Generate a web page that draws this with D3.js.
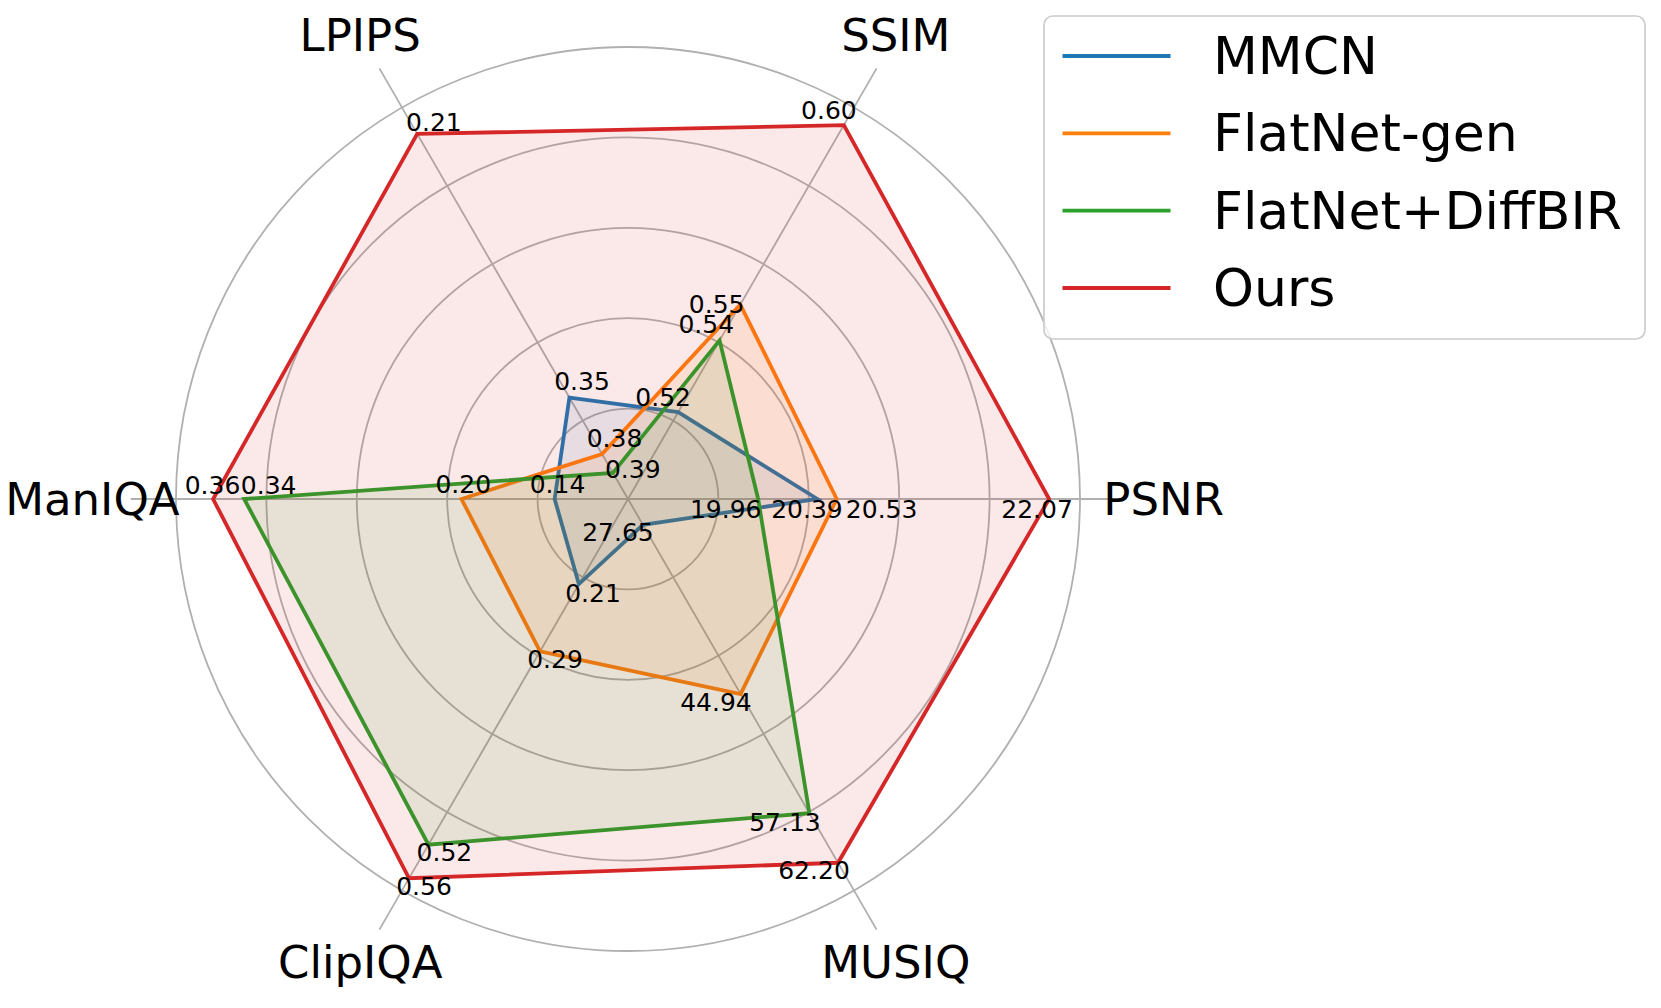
<!DOCTYPE html>
<html>
<head>
<meta charset="utf-8">
<script src="https://cdn.jsdelivr.net/npm/d3@7"></script>
<style>
  html, body { margin: 0; padding: 0; background: #ffffff; }
  svg { display: block; }
  text { font-family: "DejaVu Sans", sans-serif; fill: #000; }
</style>
</head>
<body>
<svg id="chart" width="1661" height="1008"></svg>
<script>
// ---------------- data ----------------
const metrics = ["PSNR", "SSIM", "LPIPS", "ManIQA", "ClipIQA", "MUSIQ"];
const seriesNames = ["MMCN", "FlatNet-gen", "FlatNet+DiffBIR", "Ours"];
const mmcnValues = [20.39, 0.52, 0.35, 0.14, 0.21, 27.65];
const flatnetGenValues = [20.53, 0.55, 0.38, 0.20, 0.29, 44.94];
const flatnetDiffbirValues = [19.96, 0.54, 0.39, 0.34, 0.52, 57.13];
const oursValues = [22.07, 0.60, 0.21, 0.36, 0.56, 62.20];
// per-metric value range mapped from centre (first) to outer grid ring (second); LPIPS is inverted
const metricDomains = [[19.016, 22.294], [0.4958, 0.6049], [0.4039, 0.1960], [0.09275, 0.3839], [0.1087, 0.5745], [25.0, 65.03]];
const gridLevels = [0.2, 0.4, 0.6, 0.8, 1.0];

// ---------------- layout / style ----------------
const colors = ["#1f77b4", "#ff7f0e", "#2ca02c", "#d62728"];
const cx = 628, cy = 499, R = 452;
// value-label nudges [dx, dy] per series (rows) and metric (columns)
const labelNudges = [
  [[-10.5, 10], [-15, -14.6], [12.6, -16.5], [2.9, -14.3], [14.2, 9.2], [-25, 7.1]],
  [[44.9, 10], [-23.6, -0.5], [12.5, -16], [1.8, -14.3], [15, 8.5], [-24.6, 8.6]],
  [[-32.5, 10], [-13.3, -16.3], [19.9, -3.1], [24.5, -14], [16, 7.4], [-24.4, 9.3]],
  [[-12, 10], [-14.9, -15.1], [16.7, -11], [-0.6, -14], [15, 8.7], [-24, 8.2]]
];

const series = [mmcnValues, flatnetGenValues, flatnetDiffbirValues, oursValues];

const svg = d3.select("#chart");
const g = svg.append("g").attr("transform", `translate(${cx},${cy})`);

const angleScale = d3.scaleLinear().domain([0, metrics.length]).range([0, 2 * Math.PI]);
const radiusScales = metricDomains.map(d => d3.scaleLinear().domain(d).range([0, R]));
const unitRadius = d3.scaleLinear().domain([0, 1]).range([0, R]);

function pt(i, r) {
  const a = angleScale(i);
  return [r * Math.cos(a), -r * Math.sin(a)];
}

// grid circles
g.selectAll("circle.grid").data(gridLevels).enter().append("circle")
  .attr("class", "grid")
  .attr("r", d => unitRadius(d))
  .attr("fill", "none").attr("stroke", "#b0b0b0").attr("stroke-width", 1.8);

// spokes
g.selectAll("line.spoke").data(metrics).enter().append("line")
  .attr("class", "spoke")
  .attr("x1", 0).attr("y1", 0)
  .attr("x2", (d, i) => pt(i, unitRadius(1.1))[0])
  .attr("y2", (d, i) => pt(i, unitRadius(1.1))[1])
  .attr("stroke", "#b0b0b0").attr("stroke-width", 1.8);

// metric labels
g.selectAll("text.metric").data(metrics).enter().append("text")
  .attr("class", "metric")
  .attr("x", (d, i) => pt(i, unitRadius(1.185))[0])
  .attr("y", (d, i) => pt(i, unitRadius(1.185))[1])
  .attr("text-anchor", "middle")
  .attr("dominant-baseline", "central")
  .attr("font-size", 45)
  .text(d => d);

// series polygons
const line = d3.lineRadial().curve(d3.curveLinearClosed)
  .angle(d => Math.PI / 2 - angleScale(d.i))
  .radius(d => radiusScales[d.i](d.v));

series.forEach((vals, s) => {
  const pts = vals.map((v, i) => ({ v, i }));
  g.append("path").datum(pts)
    .attr("d", line)
    .attr("fill", colors[s]).attr("fill-opacity", 0.1)
    .attr("stroke", "none");
  g.append("path").datum(pts)
    .attr("d", line)
    .attr("fill", "none")
    .attr("stroke", colors[s]).attr("stroke-width", 3.8)
    .attr("stroke-linejoin", "miter");
});

// value labels
series.forEach((vals, s) => {
  g.selectAll(null).data(vals).enter().append("text")
    .attr("x", (v, i) => pt(i, radiusScales[i](v))[0] + labelNudges[s][i][0])
    .attr("y", (v, i) => pt(i, radiusScales[i](v))[1] + labelNudges[s][i][1])
    .attr("text-anchor", "middle")
    .attr("dominant-baseline", "central")
    .attr("font-size", 25)
    .text(v => v.toFixed(2));
});

// legend
const lg = svg.append("g").attr("transform", "translate(1044,16)");
lg.append("rect")
  .attr("x", 0).attr("y", 0).attr("width", 601).attr("height", 323)
  .attr("rx", 9).attr("ry", 9)
  .attr("fill", "#ffffff").attr("fill-opacity", 0.8)
  .attr("stroke", "#cccccc").attr("stroke-width", 1.7);
const legendStep = d3.scalePoint().domain(seriesNames).range([40, 272]);
const items = lg.selectAll("g.item").data(seriesNames).enter().append("g")
  .attr("class", "item")
  .attr("transform", d => `translate(0,${legendStep(d)})`);
items.append("line")
  .attr("x1", 18.5).attr("x2", 126.5).attr("y1", 0).attr("y2", 0)
  .attr("stroke", (d, i) => colors[i]).attr("stroke-width", 3.8);
items.append("text")
  .attr("x", 169).attr("y", 0)
  .attr("dominant-baseline", "central")
  .attr("font-size", 52)
  .text(d => d);
</script>
</body>
</html>
